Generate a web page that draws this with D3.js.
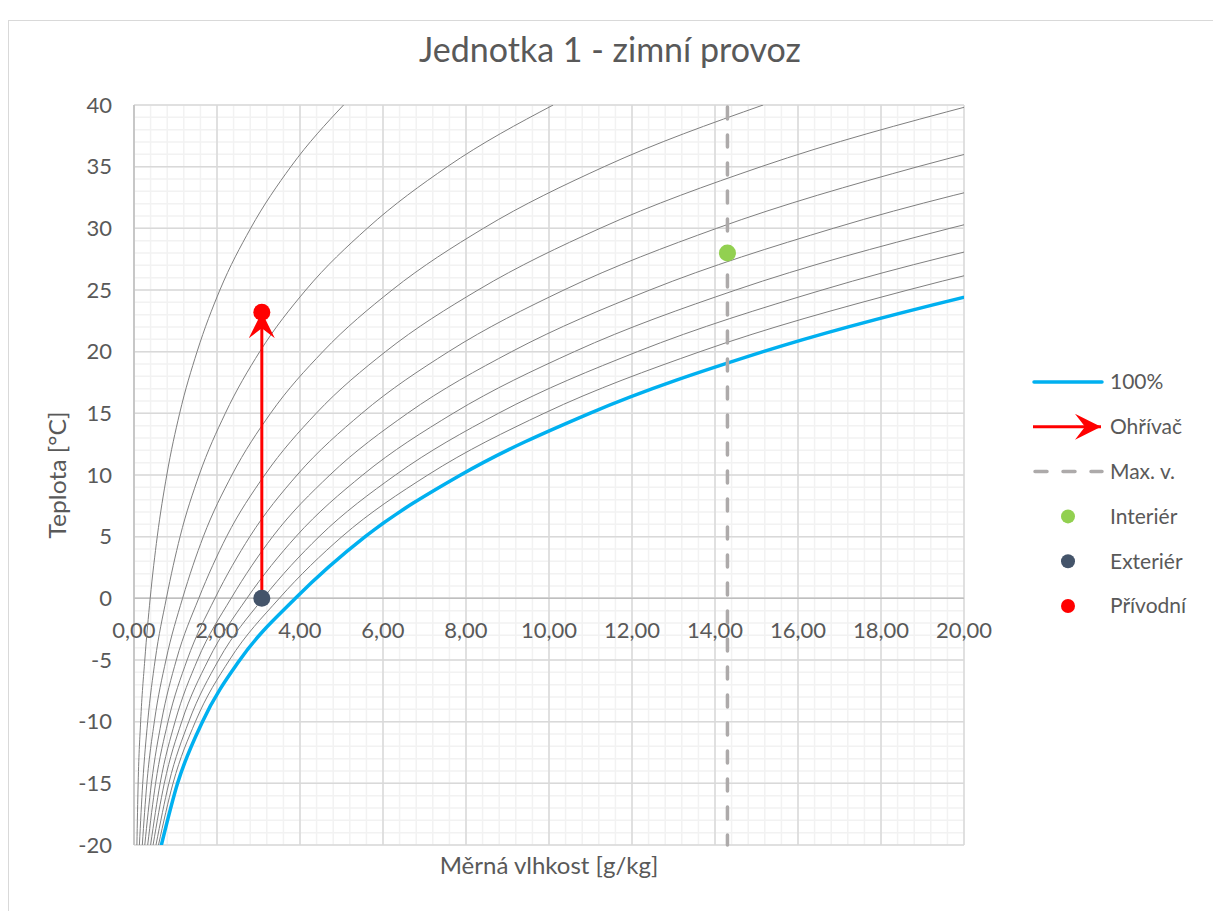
<!DOCTYPE html>
<html>
<head>
<meta charset="utf-8">
<script src="https://cdn.jsdelivr.net/npm/d3@7"></script>
<style>
  body { margin: 0; background: #fff; }
  svg { display: block; font-family: Lato, "Open Sans", sans-serif; }
  .tick-label { fill: #595959; font-size: 22px; }
  .legend-text { fill: #595959; font-size: 21px; }
</style>
</head>
<body>
<div id="chart"></div>
<script>
// temperatures [°C] at which the curves were read
var temps = [-20, -15, -10, -5, 0, 5, 10, 15, 20, 25, 30, 35, 40];

// moisture content [g/kg] of the 100% curve at each temperature
var sat100 = [0.66, 1.05, 1.65, 2.55, 3.89, 5.57, 7.87, 10.98, 15.16, 20.72, 28.08, 37.77, 50.52];

// relative humidity curves 10..90 %
var rhLevels = [10, 20, 30, 40, 50, 60, 70, 80, 90];
var rh10 = [0.07, 0.10, 0.16, 0.26, 0.39, 0.56, 0.79, 1.10, 1.52, 2.07, 2.81, 3.78, 5.05];
var rh20 = [0.13, 0.21, 0.33, 0.51, 0.78, 1.11, 1.57, 2.20, 3.03, 4.14, 5.62, 7.55, 10.10];
var rh30 = [0.20, 0.31, 0.49, 0.77, 1.17, 1.67, 2.36, 3.29, 4.55, 6.22, 8.42, 11.33, 15.16];
var rh40 = [0.26, 0.42, 0.66, 1.02, 1.56, 2.23, 3.15, 4.39, 6.06, 8.29, 11.23, 15.11, 20.21];
var rh50 = [0.33, 0.52, 0.82, 1.28, 1.95, 2.79, 3.93, 5.49, 7.58, 10.36, 14.04, 18.89, 25.26];
var rh60 = [0.40, 0.63, 0.99, 1.53, 2.34, 3.34, 4.72, 6.59, 9.10, 12.43, 16.85, 22.66, 30.31];
var rh70 = [0.46, 0.73, 1.15, 1.79, 2.72, 3.90, 5.51, 7.69, 10.61, 14.50, 19.66, 26.44, 35.36];
var rh80 = [0.53, 0.84, 1.32, 2.04, 3.11, 4.46, 6.30, 8.78, 12.13, 16.58, 22.46, 30.22, 40.42];
var rh90 = [0.59, 0.94, 1.48, 2.30, 3.50, 5.01, 7.08, 9.88, 13.64, 18.65, 25.27, 33.99, 45.47];
var rhCurves = [rh10, rh20, rh30, rh40, rh50, rh60, rh70, rh80, rh90];

// states [x g/kg, t °C]
var interier = [14.3, 28];
var exterier = [3.08, 0];
var privodni = [3.08, 23.2];
var maxV = 14.3;

var xTicks = [0, 2, 4, 6, 8, 10, 12, 14, 16, 18, 20];
var yTicks = [-20, -15, -10, -5, 0, 5, 10, 15, 20, 25, 30, 35, 40];

var legendItems = ["100%", "Ohřívač", "Max. v.", "Interiér", "Exteriér", "Přívodní"];

var width = 1213, height = 911;
var plot = { left: 134, right: 964, top: 105, bottom: 845 };

var svg = d3.select("#chart").append("svg")
    .attr("width", width)
    .attr("height", height);

// chart frame
svg.append("rect")
    .attr("x", 8.5).attr("y", 20.5)
    .attr("width", 1250).attr("height", 950)
    .attr("fill", "#fff")
    .attr("stroke", "#d9d9d9");

var x = d3.scaleLinear().domain([0, 20]).range([plot.left, plot.right]);
var y = d3.scaleLinear().domain([-20, 40]).range([plot.bottom, plot.top]);

var defs = svg.append("defs");
defs.append("clipPath").attr("id", "plot-clip")
    .append("rect")
    .attr("x", plot.left).attr("y", plot.top)
    .attr("width", plot.right - plot.left)
    .attr("height", plot.bottom - plot.top);
defs.append("marker")
    .attr("id", "arrow")
    .attr("viewBox", "0 -13 26 26")
    .attr("refX", 26).attr("refY", 0)
    .attr("markerWidth", 26).attr("markerHeight", 26)
    .attr("markerUnits", "userSpaceOnUse")
    .attr("orient", "auto")
    .append("path")
    .attr("d", "M0,-13L26,0L0,13L10,0Z")
    .attr("fill", "#ff0000");

// grid: minor then major
var grid = svg.append("g");
grid.append("g").selectAll("line")
    .data(d3.range(0, 51).map(function (i) { return i * 0.4; }))
    .enter().append("line")
    .attr("x1", function (d) { return x(d); }).attr("x2", function (d) { return x(d); })
    .attr("y1", plot.top).attr("y2", plot.bottom)
    .attr("stroke", "#f2f2f2").attr("stroke-width", 1.5);
grid.append("g").selectAll("line")
    .data(d3.range(-20, 41))
    .enter().append("line")
    .attr("y1", function (d) { return y(d); }).attr("y2", function (d) { return y(d); })
    .attr("x1", plot.left).attr("x2", plot.right)
    .attr("stroke", "#f2f2f2").attr("stroke-width", 1.5);
grid.append("g").selectAll("line")
    .data(xTicks)
    .enter().append("line")
    .attr("x1", function (d) { return x(d); }).attr("x2", function (d) { return x(d); })
    .attr("y1", plot.top).attr("y2", plot.bottom)
    .attr("stroke", "#d9d9d9").attr("stroke-width", 1.5);
grid.append("g").selectAll("line")
    .data(yTicks)
    .enter().append("line")
    .attr("y1", function (d) { return y(d); }).attr("y2", function (d) { return y(d); })
    .attr("x1", plot.left).attr("x2", plot.right)
    .attr("stroke", "#d9d9d9").attr("stroke-width", 1.5);

// axes lines (x axis crosses at 0)
svg.append("line")
    .attr("x1", plot.left).attr("x2", plot.right)
    .attr("y1", y(0)).attr("y2", y(0))
    .attr("stroke", "#bfbfbf").attr("stroke-width", 1.5);
svg.append("line")
    .attr("x1", x(0)).attr("x2", x(0))
    .attr("y1", plot.top).attr("y2", plot.bottom)
    .attr("stroke", "#bfbfbf").attr("stroke-width", 1.5);

// tick labels
svg.append("g").selectAll("text")
    .data(yTicks)
    .enter().append("text")
    .attr("class", "tick-label")
    .attr("x", 112)
    .attr("y", function (d) { return y(d); })
    .attr("dy", "0.35em")
    .attr("text-anchor", "end")
    .text(function (d) { return d; });
svg.append("g").selectAll("text")
    .data(xTicks)
    .enter().append("text")
    .attr("class", "tick-label")
    .attr("x", function (d) { return x(d); })
    .attr("y", y(0) + 32)
    .attr("dy", "0.35em")
    .attr("text-anchor", "middle")
    .text(function (d) { return d.toFixed(2).replace(".", ","); });

// curves
var curves = svg.append("g").attr("clip-path", "url(#plot-clip)");
var line = d3.line()
    .x(function (d) { return x(d[0]); })
    .y(function (d) { return y(d[1]); })
    .curve(d3.curveMonotoneX);
function pairs(values) {
    return values.map(function (v, i) { return [v, temps[i]]; });
}
curves.selectAll("path.rh")
    .data(rhCurves)
    .enter().append("path")
    .attr("class", "rh")
    .attr("d", function (d) { return line(pairs(d)); })
    .attr("fill", "none")
    .attr("stroke", "#7f7f7f")
    .attr("stroke-width", 1);
curves.append("path")
    .attr("d", line(pairs(sat100)))
    .attr("fill", "none")
    .attr("stroke", "#00b0f0")
    .attr("stroke-width", 3.5)
    .attr("stroke-linecap", "round");

// max humidity line
svg.append("line")
    .attr("x1", x(maxV)).attr("x2", x(maxV))
    .attr("y1", plot.top + 2).attr("y2", plot.bottom)
    .attr("stroke", "#adaaaa")
    .attr("stroke-width", 3.5)
    .attr("stroke-dasharray", "12,16")
    .attr("stroke-linecap", "round");

// heater arrow
svg.append("line")
    .attr("x1", x(exterier[0])).attr("y1", y(exterier[1]))
    .attr("x2", x(privodni[0])).attr("y2", y(privodni[1]))
    .attr("stroke", "#ff0000")
    .attr("stroke-width", 3)
    .attr("marker-end", "url(#arrow)");

// state points
var states = [
    { p: interier, color: "#92d050" },
    { p: exterier, color: "#44546a" },
    { p: privodni, color: "#ff0000" }
];
svg.append("g").selectAll("circle")
    .data(states)
    .enter().append("circle")
    .attr("cx", function (d) { return x(d.p[0]); })
    .attr("cy", function (d) { return y(d.p[1]); })
    .attr("r", 8.5)
    .attr("fill", function (d) { return d.color; });

// titles
svg.append("text")
    .attr("x", 610).attr("y", 50)
    .attr("dy", "0.35em")
    .attr("text-anchor", "middle")
    .attr("fill", "#595959")
    .attr("font-size", 34)
    .text("Jednotka 1 - zimní provoz");
svg.append("text")
    .attr("x", (plot.left + plot.right) / 2).attr("y", 866)
    .attr("dy", "0.35em")
    .attr("text-anchor", "middle")
    .attr("fill", "#595959")
    .attr("font-size", 24)
    .text("Měrná vlhkost [g/kg]");
var yTitle = svg.append("text")
    .attr("text-anchor", "middle")
    .attr("dy", "0.35em")
    .attr("fill", "#595959")
    .attr("font-size", 24)
    .text("Teplota [°C]");
var yLen = yTitle.node().getComputedTextLength();
yTitle.attr("transform", "translate(58,475) rotate(-90) scale(" + (127 / yLen) + ",1)");

// legend
var legendY = d3.scalePoint().domain(legendItems).range([382, 606]);
var legend = svg.append("g");
legend.selectAll("text")
    .data(legendItems)
    .enter().append("text")
    .attr("class", "legend-text")
    .attr("x", 1110)
    .attr("y", function (d) { return legendY(d); })
    .attr("dy", "0.35em")
    .text(function (d) { return d; });
legend.append("line")
    .attr("x1", 1034).attr("x2", 1102)
    .attr("y1", legendY("100%")).attr("y2", legendY("100%"))
    .attr("stroke", "#00b0f0").attr("stroke-width", 3.5).attr("stroke-linecap", "round");
legend.append("line")
    .attr("x1", 1033).attr("x2", 1101)
    .attr("y1", legendY("Ohřívač")).attr("y2", legendY("Ohřívač"))
    .attr("stroke", "#ff0000").attr("stroke-width", 3)
    .attr("marker-end", "url(#arrow)");
legend.append("line")
    .attr("x1", 1035).attr("x2", 1102)
    .attr("y1", legendY("Max. v.")).attr("y2", legendY("Max. v."))
    .attr("stroke", "#adaaaa").attr("stroke-width", 3.5)
    .attr("stroke-dasharray", "12,16").attr("stroke-linecap", "round");
legend.selectAll("circle")
    .data(states)
    .enter().append("circle")
    .attr("cx", 1068)
    .attr("cy", function (d, i) { return legendY(legendItems[3 + i]); })
    .attr("r", 7)
    .attr("fill", function (d) { return d.color; });
</script>
</body>
</html>
